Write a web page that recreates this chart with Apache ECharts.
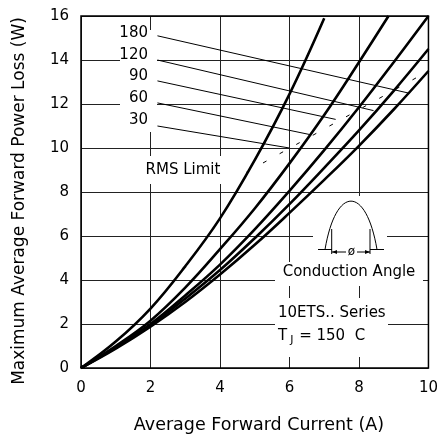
<!DOCTYPE html>
<html><head><meta charset="utf-8">
<script src="https://cdn.jsdelivr.net/npm/echarts@6/dist/echarts.min.js"></script>
<style>html,body{margin:0;padding:0;background:#fff}#c{width:441px;height:437px}</style>
</head><body><div id="c"></div>
<script>
// ---- data ----
const angleLabels = ['180', '120', '90', '60', '30'];
const curve30  = [[0,0],[1,1.2],[2,2.7],[3,4.62],[4,6.8],[5,9.45],[6,12.45],[7,15.9]];
const curve60  = [[0,0],[1,1.0],[2,2.15],[3,3.65],[4,5.4],[5,7.25],[6,9.3],[7,11.5],[8,13.9],[8.85,16]];
const curve90  = [[0,0],[1,0.95],[2,2.0],[3,3.3],[4,4.7],[5,6.3],[6,8.05],[7,9.9],[8,11.85],[9,13.9],[10,16]];
const curve120 = [[0,0],[1,0.92],[2,1.95],[3,3.15],[4,4.45],[5,5.9],[6,7.45],[7,9.1],[8,10.8],[9,12.6],[10,14.5]];
const curve180 = [[0,0],[1,0.88],[2,1.88],[3,3.0],[4,4.25],[5,5.6],[6,7.05],[7,8.55],[8,10.1],[9,11.75],[10,13.5]];
const rmsLimit = [[4.76,8.9],[10,13.5]];
// leader lines from the angle labels (180,120,90,60,30) to the RMS limit area
const leaderStart = [[2.2,15.1],[2.2,14.0],[2.2,13.05],[2.2,12.05],[2.2,11.0]];
const leaderEnd   = [[9.42,12.5],[8.42,11.7],[7.33,11.3],[6.62,10.6],[6.0,10.0]];
const xRange = [0, 10], xStep = 2;
const yRange = [0, 16], yStep = 2;
const xTitle = 'Average Forward Current (A)';
const yTitle = 'Maximum Average Forward Power Loss (W)';

const FONT = 'DejaVu Sans';
const FS = 15;
const chart = echarts.init(document.getElementById('c'), null, {renderer: 'canvas'});

const curveSeries = [curve180, curve120, curve90, curve60, curve30].map((d, i) => ({
  type: 'line', name: angleLabels[i], data: d, smooth: 0.4, showSymbol: false, symbol: 'none',
  lineStyle: {color: '#000', width: 2.6}, z: 5, clip: true
}));
const leaderSeries = leaderStart.map((s, i) => ({
  type: 'line', data: [s, leaderEnd[i]], showSymbol: false, symbol: 'none',
  lineStyle: {color: '#000', width: 1}, z: 4
}));
const rmsSeries = {
  type: 'line', data: rmsLimit, showSymbol: false, symbol: 'none',
  lineStyle: {color: '#000', width: 1, type: [4, 15]}, z: 4
};

const boxes = [
  [120, 30, 37, 102],   // angle labels column
  [143, 156, 81, 28],   // RMS Limit
  [313, 196, 74, 66],   // symbol
  [275, 262, 148, 24],  // Conduction Angle
  [275, 298, 113, 59]   // series / Tj
];
const graphics = boxes.map(b => ({
  type: 'rect', shape: {x: b[0], y: b[1], width: b[2], height: b[3]},
  style: {fill: '#fff'}, z: 3, silent: true
}));
const labelY = [33, 55, 76, 98, 120];
angleLabels.forEach((t, i) => graphics.push({
  type: 'text', x: 148, y: labelY[i], z: 10,
  style: {text: t, font: FS + 'px "' + FONT + '"', fill: '#000', align: 'right', verticalAlign: 'middle'}
}));
const texts = [
  ['RMS Limit', 183, 170, 'center'],
  ['Conduction Angle', 349, 272, 'center'],
  ['10ETS.. Series', 278, 313, 'left']
];
texts.forEach(t => graphics.push({
  type: 'text', x: t[1], y: t[2], z: 10,
  style: {text: t[0], font: FS + 'px "' + FONT + '"', fill: '#000', align: t[3], verticalAlign: 'middle'}
}));
graphics.push({
  type: 'text', x: 278, y: 336, z: 10,
  style: {
    text: '{a|T}{s|J}{a| = 150  C}', align: 'left', verticalAlign: 'middle',
    rich: {
      a: {fontFamily: FONT, fontSize: FS, fill: '#000', color: '#000'},
      s: {fontFamily: FONT, fontSize: 11, color: '#000', padding: [9, 1, 0, 3]}
    }
  }
});
// conduction angle symbol
graphics.push(
  {type: 'line', shape: {x1: 318, y1: 249.5, x2: 332, y2: 249.5}, style: {stroke: '#000', lineWidth: 1}, z: 10},
  {type: 'line', shape: {x1: 370, y1: 249.5, x2: 384, y2: 249.5}, style: {stroke: '#000', lineWidth: 1}, z: 10},
  {type: 'bezierCurve', shape: {x1: 325, y1: 249.5, cpx1: 336, cpy1: 185, cpx2: 366, cpy2: 185, x2: 377, y2: 249.5},
   style: {stroke: '#000', lineWidth: 1, fill: null}, z: 10},
  {type: 'line', shape: {x1: 331.7, y1: 229, x2: 331.7, y2: 254}, style: {stroke: '#000', lineWidth: 1}, z: 10},
  {type: 'line', shape: {x1: 370, y1: 229, x2: 370, y2: 254}, style: {stroke: '#000', lineWidth: 1}, z: 10},
  {type: 'line', shape: {x1: 332, y1: 252, x2: 346, y2: 252}, style: {stroke: '#000', lineWidth: 1}, z: 10},
  {type: 'line', shape: {x1: 357, y1: 252, x2: 370, y2: 252}, style: {stroke: '#000', lineWidth: 1}, z: 10},
  {type: 'polygon', shape: {points: [[332, 252], [337, 250], [337, 254]]}, style: {fill: '#000'}, z: 10},
  {type: 'polygon', shape: {points: [[370, 252], [365, 250], [365, 254]]}, style: {fill: '#000'}, z: 10},
  {type: 'text', x: 351.5, y: 251.5, z: 10, style: {text: 'ø', font: '12px "' + FONT + '"', fill: '#000', align: 'center', verticalAlign: 'middle'}}
);
// axis titles
graphics.push(
  {type: 'text', x: 259, y: 425, z: 10, style: {text: xTitle, font: '17.5px "' + FONT + '"', fill: '#000', align: 'center', verticalAlign: 'middle'}},
  {type: 'text', x: 20, y: 201, rotation: Math.PI / 2, z: 10, style: {text: yTitle, font: '17px "' + FONT + '"', fill: '#000', align: 'center', verticalAlign: 'middle'}}
);

chart.setOption({
  animation: false,
  backgroundColor: '#fff',
  grid: {left: 81, right: 9, top: 16, bottom: 69, show: true, borderColor: '#000', borderWidth: 1.5, backgroundColor: 'transparent', z: 6},
  xAxis: {
    type: 'value', min: xRange[0], max: xRange[1], interval: xStep,
    axisLine: {show: false}, axisTick: {show: false},
    axisLabel: {color: '#000', fontFamily: FONT, fontSize: FS, margin: 13},
    splitLine: {show: true, lineStyle: {color: '#222', width: 1}}
  },
  yAxis: {
    type: 'value', min: yRange[0], max: yRange[1], interval: yStep,
    axisLine: {show: false}, axisTick: {show: false},
    axisLabel: {color: '#000', fontFamily: FONT, fontSize: FS, margin: 12},
    splitLine: {show: true, lineStyle: {color: '#222', width: 1}}
  },
  series: [...curveSeries, ...leaderSeries, rmsSeries],
  graphic: {elements: graphics}
});
</script></body></html>
